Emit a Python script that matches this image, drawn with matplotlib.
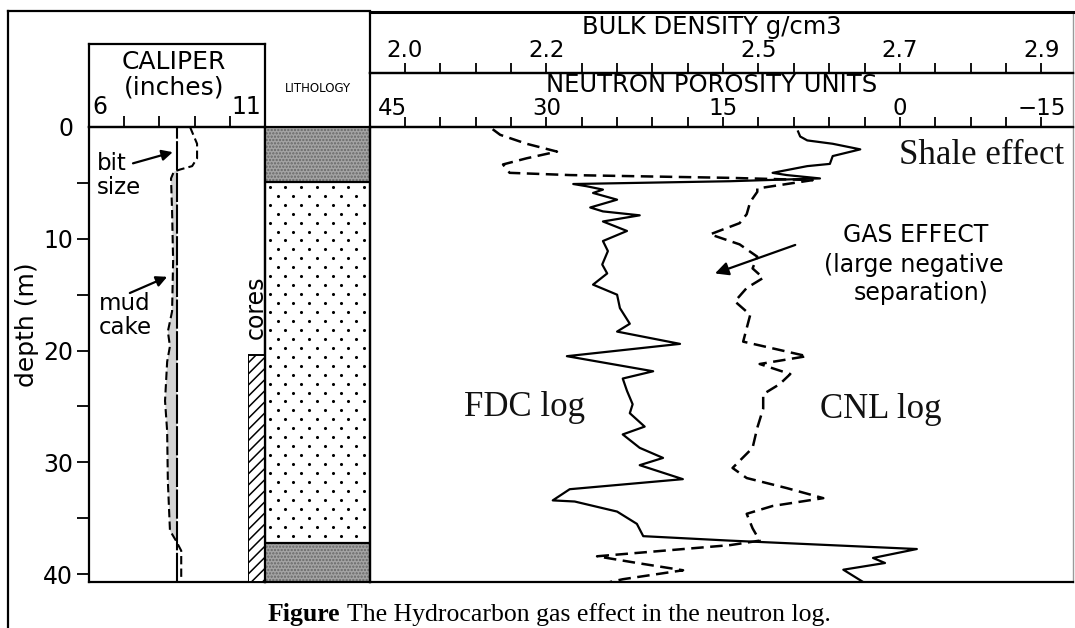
import numpy as np
import matplotlib
matplotlib.use("Agg")
import matplotlib.pyplot as plt
from matplotlib.lines import Line2D

# ---------------- data ----------------
DEPTH_TICKS = [0, 10, 20, 30, 40]
DEPTH_MINOR = [5, 15, 25, 35]
DEPTH_MAX = 40.7

CALIPER_RANGE = (6, 11)
CALIPER_TICKS = [7, 8, 9, 10]
BIT_SIZE = 8.5

mud_depth = [0.0, 1.5, 2.8, 3.5, 3.8, 4.0, 4.6, 7.5, 12.0, 16.5, 18.3, 19.6,
             21.0, 24.5, 27.2, 31.7, 36.1, 37.0, 37.9, 40.7]
mud_caliper = [8.87, 9.07, 9.07, 8.93, 8.59, 8.41, 8.33, 8.36, 8.39, 8.36, 8.24,
               8.30, 8.22, 8.16, 8.22, 8.24, 8.30, 8.47, 8.62, 8.62]

litho_top = [0.0, 4.9, 37.2]
litho_base = [4.9, 37.2, 40.7]
litho_kind = ["shale", "sand", "shale"]
core_top, core_base = 20.4, 40.7

RHO_LABELS = [2.0, 2.2, 2.5, 2.7, 2.9]
RHO_STEP = 0.05
NPHI_LABELS = [45, 30, 15, 0, -15]
NPHI_AT_RHO = [2.0, 2.2, 2.45, 2.7, 2.9]

fdc_depth = [0.4, 0.85, 1.2, 1.5, 2.0, 2.6, 3.3, 3.5, 4.1, 4.3, 4.6, 4.85, 5.1,
             5.3, 5.6, 5.9, 6.5, 7.2, 7.55, 7.9, 8.45, 9.3, 10.2, 11.1, 12.3,
             13.1, 14.1, 15.0, 16.2, 17.6, 18.3, 19.4, 20.5, 21.85, 22.5, 23.6,
             24.8, 25.6, 26.8, 27.5, 28.7, 29.6, 30.25, 31.5, 32.4, 33.4, 33.5,
             34.4, 35.5, 36.6, 37.0, 37.75, 38.55, 39.0, 39.6, 40.7]
fdc_rho = [2.556, 2.559, 2.569, 2.605, 2.644, 2.605, 2.601, 2.569, 2.520, 2.540,
           2.587, 2.460, 2.238, 2.257, 2.280, 2.266, 2.300, 2.262, 2.280, 2.332,
           2.280, 2.314, 2.280, 2.287, 2.279, 2.286, 2.266, 2.300, 2.304, 2.318,
           2.300, 2.389, 2.229, 2.351, 2.308, 2.314, 2.322, 2.318, 2.339, 2.308,
           2.332, 2.365, 2.332, 2.393, 2.233, 2.209, 2.240, 2.300, 2.328, 2.337,
           2.460, 2.724, 2.662, 2.679, 2.620, 2.648]

cnl_depth = [0.2, 0.7, 1.5, 2.2, 2.8, 3.35, 4.1, 4.3, 4.55, 4.75, 5.1, 5.5, 5.8,
             6.7, 7.8, 8.6, 9.6, 10.5, 11.6, 12.65, 13.5, 14.4, 15.6, 16.8, 18.0,
             19.2, 19.8, 20.5, 21.2, 22.1, 23.0, 23.9, 25.2, 26.9, 28.7, 30.5,
             31.4, 32.3, 33.2, 33.9, 34.6, 35.9, 37.0, 37.4, 38.4, 39.0, 39.65,
             40.45, 40.7]
cnl_nphi = [35.7, 34.9, 32.1, 29.1, 32.1, 34.6, 33.9, 28.0, 14.4, 7.4, 9.6, 12.1,
            12.1, 12.7, 13.0, 13.6, 16.1, 13.6, 12.1, 12.5, 11.6, 13.0, 14.0, 12.7,
            13.0, 13.3, 10.8, 7.9, 11.9, 9.3, 10.2, 11.6, 11.6, 12.1, 12.5, 14.2,
            13.0, 9.6, 6.5, 10.8, 13.0, 12.5, 11.9, 14.4, 25.7, 22.3, 18.4, 23.5,
            24.6]

# ---------------- layout helpers ----------------
W, H = 1075, 628
SANS = "DejaVu Sans"
SERIF = "Liberation Serif"
LW = 1.6
plt.rcParams["font.family"] = SANS
plt.rcParams["hatch.linewidth"] = 1.1

fig = plt.figure(figsize=(W / 100, H / 100), dpi=100)


def box(x0, y0, x1, y1):
    return [x0 / W, 1 - y1 / H, (x1 - x0) / W, (y1 - y0) / H]


def fxy(x, y):
    return x / W, 1 - y / H


def style_axes(ax):
    ax.set_facecolor("none")
    for sp in ax.spines.values():
        sp.set_linewidth(LW)
        sp.set_color("black")


RHO_LEFT, RHO_RIGHT = 1.9505, 2.9449

ax_cal = fig.add_axes(box(89, 127, 265, 582))
ax_core = fig.add_axes(box(248, 127, 265, 582))
ax_lith = fig.add_axes(box(265, 127, 370, 582))
ax_log = fig.add_axes(box(370, 127, 1073, 582))
ax_calh = fig.add_axes(box(89, 44, 265, 127))
ax_den = fig.add_axes(box(370, 12, 1073, 73))
ax_neu = fig.add_axes(box(370, 73, 1073, 127))
for ax in (ax_cal, ax_lith, ax_log, ax_calh, ax_den, ax_neu):
    style_axes(ax)

# ---------------- caliper track ----------------
ax_cal.set_xlim(*CALIPER_RANGE)
ax_cal.set_ylim(DEPTH_MAX, 0)
ax_cal.set_xticks([])
ax_cal.set_yticks(DEPTH_TICKS)
ax_cal.set_yticks(DEPTH_MINOR, minor=True)
ax_cal.tick_params(axis="y", which="both", direction="out", length=8.5,
                   width=1.3, labelsize=17, pad=3)
ax_cal.yaxis.get_major_ticks()[0].tick1line.set_visible(False)

mud_c = np.array(mud_caliper)
ax_cal.fill_betweenx(mud_depth, mud_c, BIT_SIZE, where=mud_c < BIT_SIZE,
                     interpolate=True, facecolor="#d4d4d4", edgecolor="none")
ax_cal.axvline(BIT_SIZE, color="black", lw=1.5, ls=(0, (14, 1.2)))
ax_cal.plot(mud_caliper, mud_depth, color="black", lw=1.5, ls=(0, (4, 2)))

arrow = dict(arrowstyle="-|>", color="black", lw=1.6, mutation_scale=16,
             shrinkA=0, shrinkB=0)
ax_cal.annotate("", xy=(8.38, 2.25), xytext=(7.25, 3.25), arrowprops=arrow)
ax_cal.annotate("", xy=(8.22, 13.4), xytext=(7.16, 14.85), arrowprops=arrow)
for txt, (x, y) in [("bit", (97, 163)), ("size", (97, 188)),
                    ("mud", (99, 303)), ("cake", (99, 327))]:
    fig.text(*fxy(x, y), txt, fontsize=16.5, ha="left", va="center")

fig.text(*fxy(27, 325), "depth (m)", rotation=90, fontsize=18,
         ha="center", va="center")

# cores column
ax_core.set_xlim(0, 1)
ax_core.set_ylim(DEPTH_MAX, 0)
ax_core.axis("off")
ax_core.fill_betweenx([core_top, core_base], 0, 1, facecolor="white",
                      hatch="///", edgecolor="black", lw=1.4)
fig.text(*fxy(256, 307), "cores", rotation=90, fontsize=17,
         ha="center", va="center")

# caliper header
ax_calh.set_xlim(*CALIPER_RANGE)
ax_calh.set_ylim(0, 1)
ax_calh.set_yticks([])
ax_calh.set_xticks(CALIPER_TICKS)
ax_calh.set_xticklabels([])
ax_calh.tick_params(axis="x", direction="in", length=8, width=1.3)
fig.text(*fxy(174, 62), "CALIPER", fontsize=18, ha="center", va="center")
fig.text(*fxy(174, 88), "(inches)", fontsize=18, ha="center", va="center")
ax_calh.text(CALIPER_RANGE[0] + 0.1, 0.24, str(CALIPER_RANGE[0]), fontsize=17,
             ha="left", va="center", transform=ax_calh.get_xaxis_transform())
ax_calh.text(CALIPER_RANGE[1] - 0.12, 0.24, str(CALIPER_RANGE[1]), fontsize=17,
             ha="right", va="center", transform=ax_calh.get_xaxis_transform())

# ---------------- lithology track ----------------
ax_lith.set_xlim(0, 1)
ax_lith.set_ylim(DEPTH_MAX, 0)
ax_lith.set_xticks([])
ax_lith.set_yticks([])
col_step, row_step = 0.15, 0.8
for top, base, kind in zip(litho_top, litho_base, litho_kind):
    if kind == "shale":
        ax_lith.axhspan(top, base, facecolor="#a4a4a4", edgecolor="none")
        ax_lith.axhspan(top, base, facecolor="none", hatch=".....",
                        edgecolor="#666666", lw=0)
    else:
        xs, ys = [], []
        for i, r in enumerate(np.arange(top + 0.45, base - 0.2, row_step)):
            start = 0.045 if i % 2 == 0 else 0.045 + col_step / 2
            cols = np.arange(start, 0.97, col_step)
            xs.extend(cols)
            ys.extend([r] * len(cols))
        ax_lith.scatter(xs, ys, s=5, color="black", lw=0)
    if top > 0:
        ax_lith.axhline(top, color="black", lw=LW)
fig.text(*fxy(318, 88), "LITHOLOGY", fontsize=8.5, ha="center", va="center")

# ---------------- density / neutron track ----------------
cnl_rho = np.interp(cnl_nphi, NPHI_LABELS[::-1], NPHI_AT_RHO[::-1])

ax_log.set_xlim(RHO_LEFT, RHO_RIGHT)
ax_log.set_ylim(DEPTH_MAX, 0)
ax_log.set_xticks([])
ax_log.set_yticks([])
ax_log.spines["right"].set_color("#9a9a9a")
ax_log.spines["right"].set_linewidth(1.0)
ax_log.plot(fdc_rho, fdc_depth, color="black", lw=1.6, solid_joinstyle="round")
ax_log.plot(cnl_rho, cnl_depth, color="black", lw=1.8, ls=(0, (5, 2.6)))

ax_log.annotate("", xy=(2.4385, 13.1), xytext=(2.552, 10.55),
                arrowprops=dict(arrowstyle="-|>", color="black", lw=1.6,
                                mutation_scale=20, shrinkA=0, shrinkB=0))
for txt, (x, y) in [("GAS EFFECT", (916, 235)),
                    ("(large negative", (914, 265)),
                    ("separation)", (921, 293))]:
    fig.text(*fxy(x, y), txt, fontsize=17, ha="center", va="center")

for txt, (x, y) in [("Shale effect", (982, 155)), ("FDC log", (524, 408)),
                    ("CNL log", (881, 410))]:
    fig.text(*fxy(x, y), txt, fontsize=25, family=SERIF, color="#111111",
             ha="center", va="center")

minor_rho = np.round(np.arange(RHO_LABELS[0], RHO_LABELS[-1] + 1e-6, RHO_STEP), 3)
for ax in (ax_den, ax_neu):
    ax.set_xlim(RHO_LEFT, RHO_RIGHT)
    ax.set_ylim(0, 1)
    ax.set_yticks([])
    ax.set_xticks(minor_rho)
    ax.set_xticklabels([])
    ax.tick_params(axis="x", direction="in", length=7, width=1.3)
    ax.spines["right"].set_color("#9a9a9a")
    ax.spines["right"].set_linewidth(1.0)
ax_den.spines["top"].set_linewidth(2.2)

for v in RHO_LABELS:
    ax_den.text(v, 0.37, f"{v:.1f}", fontsize=16.5, ha="center", va="center",
                transform=ax_den.get_xaxis_transform())
for i, (n, v) in enumerate(zip(NPHI_LABELS, NPHI_AT_RHO)):
    label = f"{n}".replace("-", "\u2212")
    ha = "right" if i == 0 else "center"
    x = v + 0.003 if i == 0 else v
    ax_neu.text(x, 0.35, label, fontsize=16.5, ha=ha, va="center",
                transform=ax_neu.get_xaxis_transform())
fig.text(*fxy(712, 27), "BULK DENSITY g/cm3", fontsize=17.5, ha="center", va="center")
fig.text(*fxy(712, 85), "NEUTRON POROSITY UNITS", fontsize=17.5,
         ha="center", va="center")

# ---------------- outer frame ----------------
fig.add_artist(Line2D([8 / W, 8 / W], [0, 1 - 11 / H], color="black", lw=LW))
fig.add_artist(Line2D([8 / W, 370 / W], [1 - 11 / H, 1 - 11 / H],
                      color="black", lw=LW))

# ---------------- caption ----------------
cap_size = 18.5
t1 = fig.text(*fxy(268, 621), "Figure", fontsize=cap_size, family=SERIF,
              fontweight="bold", ha="left", va="baseline")
renderer = fig.canvas.get_renderer()
bb = t1.get_window_extent(renderer)
space = 0.25 * cap_size * 100 / 72
fig.text((bb.x1 + space) / W, 1 - 621 / H,
         "The Hydrocarbon gas effect in the neutron log.", fontsize=cap_size,
         family=SERIF, ha="left", va="baseline")

fig.savefig("out.png", dpi=100)
